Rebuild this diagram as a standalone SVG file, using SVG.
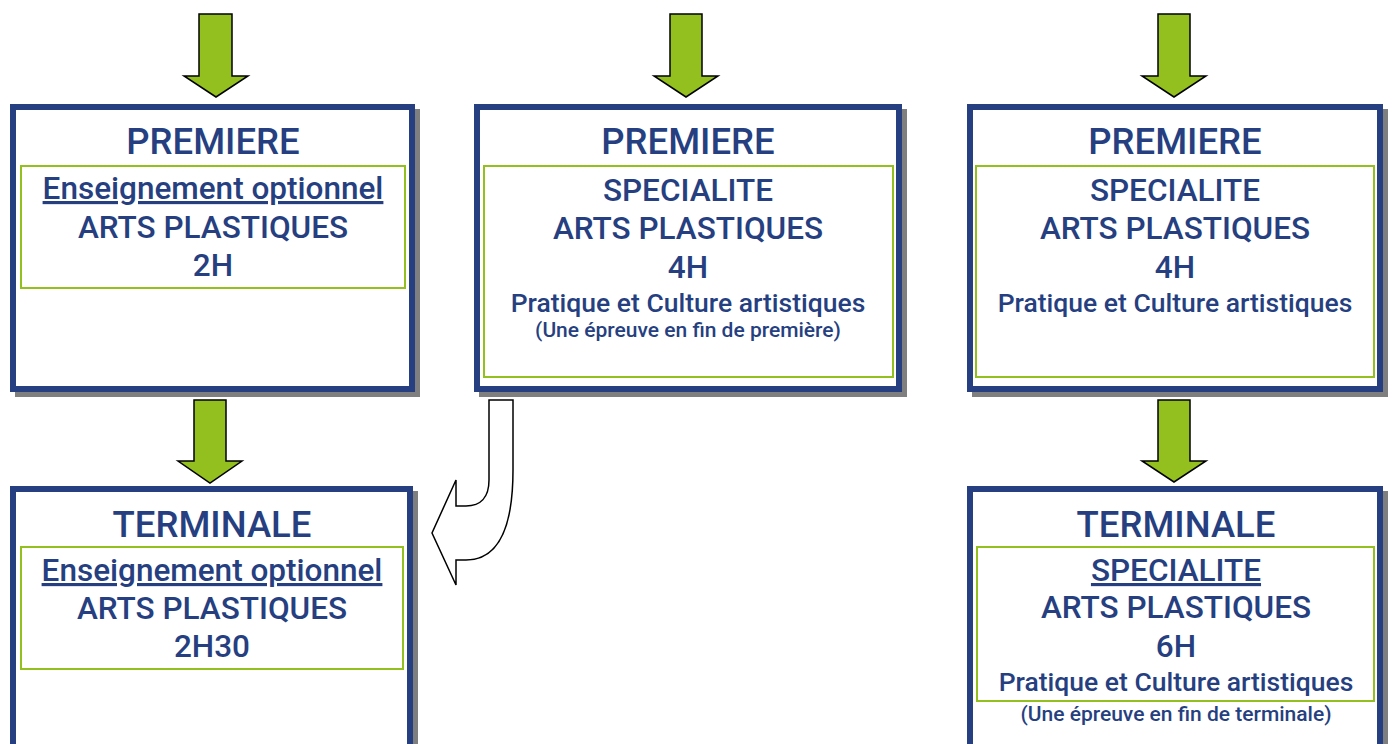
<svg xmlns="http://www.w3.org/2000/svg" width="1392" height="744" viewBox="0 0 1392 744">
<defs>
<style>
.shadow{fill:#7f7f7f;}
.box{fill:#ffffff;stroke:#263f80;stroke-width:6;}
.inner{fill:none;stroke:#93c01f;stroke-width:2;}
.garrow{fill:#93c01f;stroke:#000000;stroke-width:1.5;stroke-linejoin:miter;}
.warrow{fill:#ffffff;stroke:#000000;stroke-width:1.5;}
text{font-family:Roboto,"Liberation Sans",sans-serif;fill:#263f80;font-weight:500;text-anchor:middle;}
.t1{font-size:36.5px;}
.t2{font-size:31.5px;}
.t3{font-size:26.5px;}
.t4{font-size:21px;}
.u{text-decoration:underline;}
</style>
</defs>
<rect width="1392" height="744" fill="#ffffff"/>
<g id="connectors">
<path class="garrow" d="M199,14 H232 V76 H248 L216,97 L184,76 H199 Z"/>
<path class="garrow" d="M670,14 H702 V76 H718 L686,97 L654,76 H670 Z"/>
<path class="garrow" d="M1158,14 H1190 V76 H1206 L1174,97 L1142,76 H1158 Z"/>
<path class="garrow" d="M194,400 H226 V461 H242 L210,483 L178,461 H194 Z"/>
<path class="garrow" d="M1158,400 H1190 V461 H1206 L1174,482 L1142,461 H1158 Z"/>
<path class="warrow" d="M489,400 H513 V470 C513,530 497,560 466,560 H456 V585 L432,533 L456,480 V506 H466 C480,506 489,498 489,480 Z"/>
</g>
<g id="node-premiere-option">
<rect class="shadow" x="15" y="109" width="405" height="288"/>
<rect class="box" x="13" y="107" width="399" height="282"/>
<rect class="inner" x="21" y="166" width="384" height="122"/>
<text class="t1" x="213" y="154">PREMIERE</text>
<text class="t2 u" x="213" y="199">Enseignement optionnel</text>
<text class="t2" x="213" y="238">ARTS PLASTIQUES</text>
<text class="t2" x="213" y="276">2H</text>
</g>
<g id="node-premiere-spe-1">
<rect class="shadow" x="479" y="109" width="428" height="288"/>
<rect class="box" x="477" y="107" width="422" height="282"/>
<rect class="inner" x="484" y="166" width="409" height="211"/>
<text class="t1" x="688" y="154">PREMIERE</text>
<text class="t2" x="688" y="201">SPECIALITE</text>
<text class="t2" x="688" y="239">ARTS PLASTIQUES</text>
<text class="t2" x="688" y="278">4H</text>
<text class="t3" x="688" y="312">Pratique et Culture artistiques</text>
<text class="t4" x="688" y="337">(Une épreuve en fin de première)</text>
</g>
<g id="node-premiere-spe-2">
<rect class="shadow" x="972" y="109" width="416" height="288"/>
<rect class="box" x="970" y="107" width="410" height="282"/>
<rect class="inner" x="976" y="166" width="398" height="211"/>
<text class="t1" x="1175" y="154">PREMIERE</text>
<text class="t2" x="1175" y="201">SPECIALITE</text>
<text class="t2" x="1175" y="239">ARTS PLASTIQUES</text>
<text class="t2" x="1175" y="278">4H</text>
<text class="t3" x="1175" y="312">Pratique et Culture artistiques</text>
</g>
<g id="node-terminale-option">
<rect class="shadow" x="15" y="491" width="403" height="276"/>
<rect class="box" x="13" y="489" width="397" height="270"/>
<rect class="inner" x="21" y="547" width="382" height="122"/>
<text class="t1" x="212" y="537">TERMINALE</text>
<text class="t2 u" x="212" y="581">Enseignement optionnel</text>
<text class="t2" x="212" y="619">ARTS PLASTIQUES</text>
<text class="t2" x="212" y="657">2H30</text>
</g>
<g id="node-terminale-spe">
<rect class="shadow" x="972" y="491" width="416" height="276"/>
<rect class="box" x="970" y="489" width="410" height="270"/>
<rect class="inner" x="977" y="547" width="397" height="154"/>
<text class="t1" x="1176" y="537">TERMINALE</text>
<text class="t2 u" x="1176" y="581">SPECIALITE</text>
<text class="t2" x="1176" y="618">ARTS PLASTIQUES</text>
<text class="t2" x="1176" y="657">6H</text>
<text class="t3" x="1176" y="691">Pratique et Culture artistiques</text>
<text class="t4" x="1176" y="721">(Une épreuve en fin de terminale)</text>
</g>
</svg>
